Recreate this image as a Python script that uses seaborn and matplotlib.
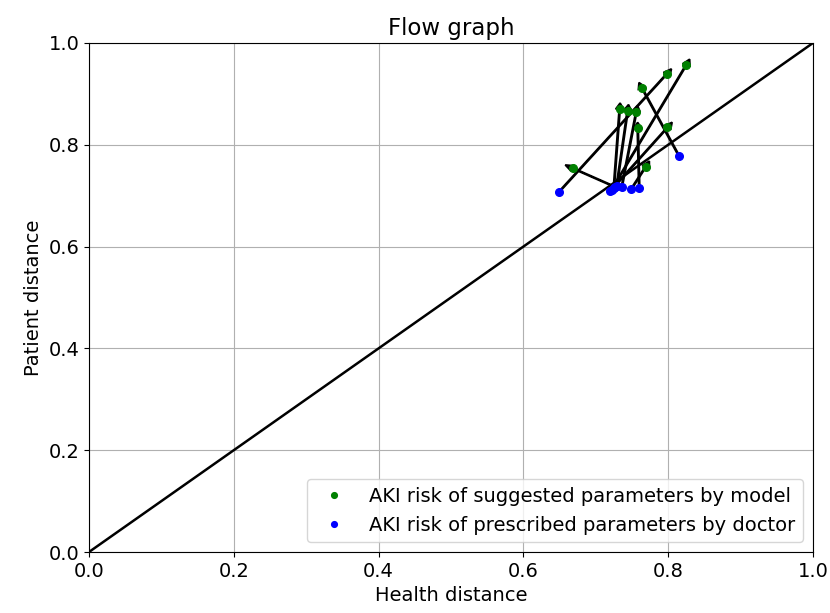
import numpy as np
import matplotlib
matplotlib.use("Agg")
import matplotlib.pyplot as plt
import seaborn as sns

# Distancias (salud, paciente)
doctor_health = [0.649, 0.815, 0.727, 0.725, 0.729, 0.736, 0.760, 0.720, 0.749, 0.722]
doctor_patient = [0.707, 0.778, 0.717, 0.716, 0.720, 0.718, 0.715, 0.709, 0.713, 0.712]
model_health = [0.798, 0.764, 0.668, 0.733, 0.744, 0.756, 0.758, 0.799, 0.769, 0.825]
model_patient = [0.939, 0.911, 0.754, 0.870, 0.867, 0.865, 0.832, 0.834, 0.757, 0.957]

label_model = 'AKI risk of suggested parameters by model'
label_doctor = 'AKI risk of prescribed parameters by doctor'

plt.rcParams['font.size'] = 14

fig = plt.figure(figsize=(8.3, 6.13), dpi=100)
ax = fig.add_axes([0.1072, 0.0995, 0.8723, 0.8304])

# Diagonal de referencia
sns.lineplot(x=[0, 1], y=[0, 1], color='black', linewidth=1.8, ax=ax)

# Flechas doctor -> modelo
for x0, y0, x1, y1 in zip(doctor_health, doctor_patient, model_health, model_patient):
    ax.arrow(x0, y0, x1 - x0, y1 - y0, width=0.0015, head_width=0.011,
             head_length=0.012, color='black', linewidth=1.3, zorder=3)

ax.plot(model_health, model_patient, '.', color='green', markersize=11,
        label=label_model, zorder=4)
ax.plot(doctor_health, doctor_patient, '.', color='blue', markersize=11,
        label=label_doctor, zorder=4)

ax.set_xlim(0, 1)
ax.set_ylim(0, 1)
ax.grid(True)
ax.set_title('Flow graph', fontsize=16.5)
ax.set_xlabel('Health distance')
ax.set_ylabel('Patient distance')
ax.legend(loc='lower right', fontsize=14, markerscale=0.75)

fig.savefig('out.png', dpi=100)
